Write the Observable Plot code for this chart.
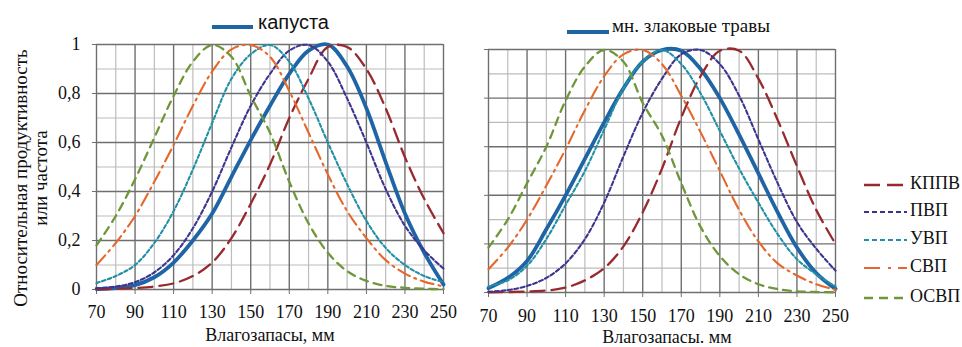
<!DOCTYPE html>
<html><head><meta charset="utf-8">
<script src="https://cdn.jsdelivr.net/npm/d3@7"></script>
<script src="https://cdn.jsdelivr.net/npm/@observablehq/plot@0.6"></script>
<style>
html,body{margin:0;padding:0;background:#fff;}
body{width:962px;height:347px;overflow:hidden;position:relative;font-family:"Liberation Serif","Times New Roman",serif;color:#111;}
.abs{position:absolute;white-space:nowrap;font-family:"Liberation Serif","Times New Roman",serif;}
#left{position:absolute;left:0;top:0;}
#right{position:absolute;left:470px;top:0;}
svg text{font-family:"Liberation Serif","Times New Roman",serif !important;}
.ylab{position:absolute;width:320px;height:20px;line-height:20px;font-size:19px;text-align:center;transform:rotate(-90deg);font-family:"Liberation Serif","Times New Roman",serif;}
.leg{position:absolute;left:864px;height:20px;line-height:20px;font-size:18px;font-family:"Liberation Serif","Times New Roman",serif;}
.leg svg{vertical-align:middle;margin-right:3px;}
</style>
</head><body>
<div id="left"></div>
<div id="right"></div>
<div id="overlay"></div>
<script>
// ---------- data ----------
const xs = [70,80,90,100,110,120,130,140,150,160,170,180,190,200,210,220,230,240,250];
const xMajor = [70,90,110,130,150,170,190,210,230,250];
const xMinor = [80,100,120,140,160,180,200,220,240];
const yMajor = [0,0.2,0.4,0.6,0.8,1];
const yMinor = [0.1,0.3,0.5,0.7,0.9];
const yTickLabels = ["0","0,2","0,4","0,6","0,8","1"];
const seriesNames = ["КППВ","ПВП","УВП","СВП","ОСВП"];
const titleLeft = "капуста";
const titleRight = "мн. злаковые травы";
const xTitleLeft = "Влагозапасы, мм";
const xTitleRight = "Влагозапасы. мм";
const yTitle1 = "Относительная продуктивность";
const yTitle2 = "или частота";

// left chart (капуста)
const cabbage  = [0.002,0.006,0.018,0.05,0.11,0.20,0.31,0.46,0.61,0.75,0.88,0.975,1.0,0.91,0.74,0.52,0.31,0.15,0.02];
const leftKPPV = [0.001,0.003,0.006,0.012,0.025,0.055,0.11,0.21,0.35,0.51,0.70,0.86,0.99,0.99,0.90,0.74,0.54,0.37,0.23];
const leftPVP  = [0.005,0.012,0.03,0.07,0.14,0.25,0.40,0.58,0.75,0.88,0.975,0.998,0.93,0.78,0.60,0.41,0.26,0.16,0.085];
const leftUVP  = [0.026,0.055,0.10,0.19,0.32,0.49,0.68,0.86,0.96,0.998,0.93,0.78,0.60,0.43,0.28,0.17,0.10,0.055,0.03];
const leftSVP  = [0.10,0.19,0.30,0.44,0.59,0.75,0.89,0.98,0.998,0.95,0.81,0.64,0.47,0.32,0.21,0.12,0.065,0.032,0.013];
const leftOSVP = [0.18,0.30,0.45,0.62,0.79,0.93,0.998,0.95,0.79,0.64,0.44,0.27,0.15,0.075,0.035,0.015,0.007,0.003,0.001];

// right chart (мн. злаковые травы)
const grasses   = [0.018,0.06,0.13,0.26,0.40,0.55,0.70,0.84,0.95,0.998,0.995,0.92,0.80,0.65,0.49,0.33,0.185,0.08,0.015];
const rightKPPV = [0.001,0.002,0.004,0.008,0.02,0.05,0.10,0.19,0.33,0.51,0.72,0.89,0.995,0.995,0.88,0.71,0.52,0.34,0.20];
const rightPVP  = [0.003,0.01,0.027,0.06,0.12,0.22,0.37,0.56,0.74,0.88,0.98,0.998,0.94,0.81,0.63,0.45,0.29,0.18,0.09];
const rightUVP  = [0.025,0.05,0.11,0.22,0.36,0.50,0.67,0.84,0.95,0.998,0.94,0.82,0.665,0.51,0.37,0.24,0.137,0.075,0.025];
const rightSVP  = [0.096,0.185,0.30,0.44,0.59,0.75,0.89,0.98,0.998,0.94,0.81,0.66,0.50,0.34,0.21,0.12,0.07,0.034,0.011];
const rightOSVP = [0.185,0.30,0.45,0.60,0.79,0.93,0.998,0.95,0.78,0.645,0.45,0.27,0.15,0.075,0.034,0.014,0.005,0.002,0.001];

// ---------- styles ----------
const mainStyle = {stroke:"#1F65A6", width:3.8};
const styles = {
  "КППВ": {stroke:"#982A2E", width:2.3, dash:"14,7", legDash:"16,7"},
  "ПВП":  {stroke:"#3C3590", width:2.1, dash:"4,2.5", legDash:"5,3"},
  "УВП":  {stroke:"#2190A6", width:2.1, dash:"3.5,2.5", legDash:"5,3"},
  "СВП":  {stroke:"#E5672A", width:2.1, dash:"13,5,2,5", legDash:"16,8,3,7"},
  "ОСВП": {stroke:"#6F973A", width:2.3, dash:"8,6", legDash:"9,6"}
};
const serif = '"Liberation Serif","Times New Roman",serif';

function build(mainVals, vals, o) {
  const marks = [
    Plot.ruleX(xMinor, {stroke:"#bcbcbc", strokeWidth:1.2}),
    Plot.ruleY(yMinor, {stroke:"#bcbcbc", strokeWidth:1.2}),
    Plot.ruleX(xMajor, {stroke:"#6f6f6f", strokeWidth:1.4}),
    Plot.ruleY(yMajor, {stroke:"#6f6f6f", strokeWidth:1.4}),
    Plot.axisX({ticks:xMajor, tickSize:5, tickPadding:o.xPad, stroke:"#6f6f6f", fill:"#111", fontSize:18, fontFamily:serif, label:null, tickFormat:d => String(d)}),
    Plot.axisY({ticks:yMajor, tickSize:4, tickPadding:12, stroke:"#6f6f6f", fill:"#111", fontSize:18, fontFamily:serif, label:null,
      tickFormat: o.yLabels ? (d => yTickLabels[yMajor.indexOf(d)]) : (() => "")})
  ];
  marks.push(Plot.line(xs.map((x,i)=>({x, y:mainVals[i]})), {x:"x", y:"y", stroke:mainStyle.stroke, strokeWidth:mainStyle.width, curve:"catmull-rom"}));
  seriesNames.forEach((n,k) => {
    const s = styles[n];
    marks.push(Plot.line(xs.map((x,i)=>({x, y:vals[k][i]})), {x:"x", y:"y", stroke:s.stroke, strokeWidth:s.width, strokeDasharray:s.dash, curve:"catmull-rom"}));
  });
  return Plot.plot({
    width:o.width, height:347,
    marginLeft:o.ml, marginRight:o.mr, marginTop:o.mt, marginBottom:o.mb,
    x:{domain:[70,250]}, y:{domain:[0,1]},
    style:{fontFamily:serif, fontSize:"18px", background:"transparent", overflow:"visible"},
    marks
  });
}

document.getElementById("left").append(build(cabbage, [leftKPPV,leftPVP,leftUVP,leftSVP,leftOSVP],
  {width:460, ml:96, mr:17, mt:44, mb:58, xPad:11, yLabels:true}));
document.getElementById("right").append(build(grasses, [rightKPPV,rightPVP,rightUVP,rightSVP,rightOSVP],
  {width:380, ml:18, mr:15, mt:49, mb:55, xPad:12, yLabels:false}));

// ---------- texts and legends ----------
const ov = document.getElementById("overlay");
function add(html){ const d=document.createElement("div"); d.innerHTML=html; ov.append(d.firstElementChild); }
function lineSvg(w, s, dash){ return `<svg width="${w}" height="10"><line x1="0" y1="5" x2="${w}" y2="5" stroke="${s.stroke}" stroke-width="${s.width}" ${dash?`stroke-dasharray="${dash}"`:""}/></svg>`; }

add(`<div class="abs" style="left:212px;top:18px;">${lineSvg(41, {stroke:mainStyle.stroke,width:3.8})}</div>`);
add(`<div class="abs" style="left:258px;top:10px;line-height:24px;font-size:20px;font-family:'Liberation Sans',Arial,sans-serif;">${titleLeft}</div>`);
add(`<div class="abs" style="left:567px;top:23px;">${lineSvg(42, {stroke:mainStyle.stroke,width:3.8})}</div>`);
add(`<div class="abs" style="left:612px;top:15px;line-height:22px;font-size:19px;">${titleRight}</div>`);

add(`<div class="abs" style="left:140px;width:260px;text-align:center;top:325px;line-height:20px;font-size:18px;">${xTitleLeft}</div>`);
add(`<div class="abs" style="left:537px;width:260px;text-align:center;top:328px;line-height:18px;font-size:18px;">${xTitleRight}</div>`);

add(`<div class="ylab" style="left:${20.5-160}px;top:${178-10}px;">${yTitle1}</div>`);
add(`<div class="ylab" style="left:${41-160}px;top:${178-10}px;">${yTitle2}</div>`);

const legY = [183,210,238,266,296];
seriesNames.forEach((n,k) => {
  const s = styles[n];
  add(`<div class="leg" style="top:${legY[k]-10}px;">${lineSvg(43, s, s.legDash)}<span>${n}</span></div>`);
});
</script>
</body></html>
